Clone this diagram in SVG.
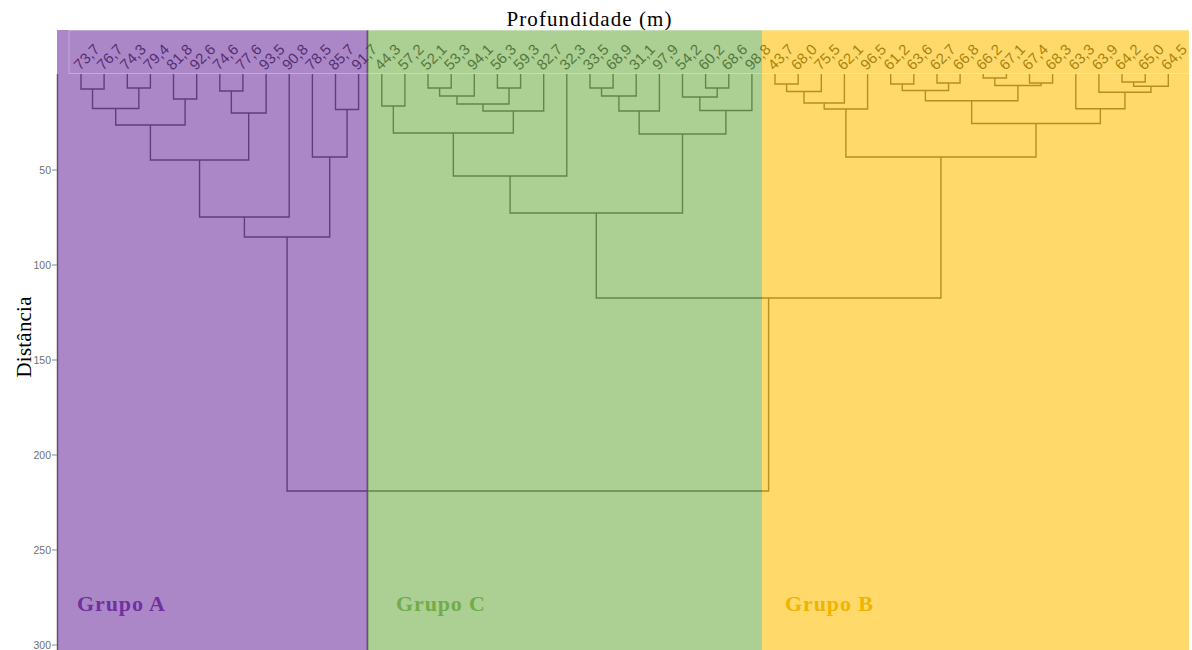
<svg xmlns="http://www.w3.org/2000/svg" width="1192" height="650" viewBox="0 0 1192 650">
<style>
.lbl{font-family:"Liberation Sans",Arial,sans-serif;font-size:15px;fill:#2e2e2e}
.tick{font-family:"Liberation Sans",Arial,sans-serif;font-size:10.5px;fill:#707070;text-anchor:end}
.ttl{font-family:"Liberation Serif","Times New Roman",serif;font-size:21px;fill:#000}
.grp{font-family:"Liberation Serif","Times New Roman",serif;font-size:22px;font-weight:bold}
.den path{fill:none;stroke:#505050;stroke-width:1.4}
.ov{fill-opacity:0.58}
</style>
<rect x="0" y="0" width="1192" height="650" fill="#fff"/>
<text class="ttl" x="589" y="26" text-anchor="middle" textLength="165">Profundidade (m)</text>
<text class="ttl" transform="translate(31,337) rotate(-90)" text-anchor="middle" textLength="81">Distância</text>
<g id="axis">
<line x1="57.5" y1="74" x2="57.5" y2="650" stroke="#666" stroke-width="1.5"/>
<g stroke="#888" stroke-width="1">
<line x1="52" y1="170" x2="57" y2="170"/><line x1="52" y1="265" x2="57" y2="265"/>
<line x1="52" y1="360" x2="57" y2="360"/><line x1="52" y1="455" x2="57" y2="455"/>
<line x1="52" y1="550" x2="57" y2="550"/><line x1="52" y1="645" x2="57" y2="645"/>
</g>
<text class="tick" x="51" y="173.5">50</text><text class="tick" x="51" y="268.5">100</text>
<text class="tick" x="51" y="363.5">150</text><text class="tick" x="51" y="458.5">200</text>
<text class="tick" x="51" y="553.5">250</text><text class="tick" x="51" y="648.5">300</text>
</g>
<line x1="367.5" y1="30" x2="367.5" y2="650" stroke="#707070" stroke-width="2"/>
<g id="connectors" class="den">
<path d="M81 74V89H104.1V74"/><path d="M127.3 74V88H150.4V74"/><path d="M92.55 89V108.5H138.85V88"/>
<path d="M173.5 74V99H196.7V74"/><path d="M115.7 108.5V125H185.1V99"/><path d="M219.8 74V91H242.9V74"/>
<path d="M231.35 91V113H266.1V74"/><path d="M150.4 125V160H248.7V113"/><path d="M199.55 160V217H289.2V74"/>
<path d="M335.5 74V109.5H358.6V74"/><path d="M312.4 74V157H347.05V109.5"/><path d="M244.4 217V237H329.7V157"/>
<path d="M381.8 74V106H404.9V74"/><path d="M428 74V88H451.2V74"/><path d="M439.6 88V96H474.3V74"/>
<path d="M497.4 74V88H520.6V74"/><path d="M456.95 96V104H509V88"/><path d="M482.98 104V111H543.7V74"/>
<path d="M393.35 106V133H513.34V111"/><path d="M453.35 133V176H566.8V74"/><path d="M590 74V88H613.1V74"/>
<path d="M601.55 88V96H636.2V74"/><path d="M618.9 96V111H659.4V74"/><path d="M705.6 74V88H728.8V74"/>
<path d="M682.5 74V97H717.2V88"/><path d="M699.85 97V110.5H751.9V74"/><path d="M639.15 111V134H725.9V110.5"/>
<path d="M510.07 176V213H682.5V134"/>
<path d="M775 74V84H798.2V74"/><path d="M786.6 84V91.5H821.3V74"/><path d="M803.95 91.5V103H844.4V74"/>
<path d="M824.18 103V109H867.6V74"/><path d="M890.7 74V84H913.8V74"/><path d="M937 74V83H960.1V74"/>
<path d="M902.25 84V90.5H948.55V83"/><path d="M983.2 74V78H1006.4V74"/><path d="M1029.5 74V83H1052.6V74"/>
<path d="M994.8 78V85.5H1041.05V83"/><path d="M925.4 90.5V100.7H1017.93V85.5"/><path d="M1122 74V82H1145.2V74"/>
<path d="M1133.6 82V86.3H1168.3V74"/><path d="M1098.9 74V92.3H1150.95V86.3"/><path d="M1075.8 74V108.7H1124.93V92.3"/>
<path d="M971.66 100.7V123.5H1100.36V108.7"/><path d="M845.89 109V157H1036.01V123.5"/>
<path d="M596.3 213V298H940.95V157"/><path d="M287.05 237V491H768.6V298"/>
</g>
<g id="leaves" class="lbl">
<text id="l1" transform="translate(80,71) rotate(-45)">73,7</text>
<text id="l2" transform="translate(103.1,71) rotate(-45)">76,7</text>
<text id="l3" transform="translate(126.3,71) rotate(-45)">74,3</text>
<text id="l4" transform="translate(149.4,71) rotate(-45)">79,4</text>
<text id="l5" transform="translate(172.5,71) rotate(-45)">81,8</text>
<text id="l6" transform="translate(195.7,71) rotate(-45)">92,6</text>
<text id="l7" transform="translate(218.8,71) rotate(-45)">74,6</text>
<text id="l8" transform="translate(241.9,71) rotate(-45)">77,6</text>
<text id="l9" transform="translate(265.1,71) rotate(-45)">93,5</text>
<text id="l10" transform="translate(288.2,71) rotate(-45)">90,8</text>
<text id="l11" transform="translate(311.4,71) rotate(-45)">78,5</text>
<text id="l12" transform="translate(334.5,71) rotate(-45)">85,7</text>
<text id="l13" transform="translate(357.6,71) rotate(-45)">91,7</text>
<text id="l14" transform="translate(380.8,71) rotate(-45)">44,3</text>
<text id="l15" transform="translate(403.9,71) rotate(-45)">57,2</text>
<text id="l16" transform="translate(427,71) rotate(-45)">52,1</text>
<text id="l17" transform="translate(450.2,71) rotate(-45)">53,3</text>
<text id="l18" transform="translate(473.3,71) rotate(-45)">94,1</text>
<text id="l19" transform="translate(496.4,71) rotate(-45)">56,3</text>
<text id="l20" transform="translate(519.6,71) rotate(-45)">59,3</text>
<text id="l21" transform="translate(542.7,71) rotate(-45)">82,7</text>
<text id="l22" transform="translate(565.8,71) rotate(-45)">32,3</text>
<text id="l23" transform="translate(589,71) rotate(-45)">33,5</text>
<text id="l24" transform="translate(612.1,71) rotate(-45)">68,9</text>
<text id="l25" transform="translate(635.2,71) rotate(-45)">31,1</text>
<text id="l26" transform="translate(658.4,71) rotate(-45)">97,9</text>
<text id="l27" transform="translate(681.5,71) rotate(-45)">54,2</text>
<text id="l28" transform="translate(704.6,71) rotate(-45)">60,2</text>
<text id="l29" transform="translate(727.8,71) rotate(-45)">68,6</text>
<text id="l30" transform="translate(750.9,71) rotate(-45)">98,8</text>
<text id="l31" transform="translate(774,71) rotate(-45)">43,7</text>
<text id="l32" transform="translate(797.2,71) rotate(-45)">68,0</text>
<text id="l33" transform="translate(820.3,71) rotate(-45)">75,5</text>
<text id="l34" transform="translate(843.4,71) rotate(-45)">62,1</text>
<text id="l35" transform="translate(866.6,71) rotate(-45)">96,5</text>
<text id="l36" transform="translate(889.7,71) rotate(-45)">61,2</text>
<text id="l37" transform="translate(912.8,71) rotate(-45)">63,6</text>
<text id="l38" transform="translate(936,71) rotate(-45)">62,7</text>
<text id="l39" transform="translate(959.1,71) rotate(-45)">66,8</text>
<text id="l40" transform="translate(982.2,71) rotate(-45)">66,2</text>
<text id="l41" transform="translate(1005.4,71) rotate(-45)">67,1</text>
<text id="l42" transform="translate(1028.5,71) rotate(-45)">67,4</text>
<text id="l43" transform="translate(1051.6,71) rotate(-45)">68,3</text>
<text id="l44" transform="translate(1074.8,71) rotate(-45)">63,3</text>
<text id="l45" transform="translate(1097.9,71) rotate(-45)">63,9</text>
<text id="l46" transform="translate(1121,71) rotate(-45)">64,2</text>
<text id="l47" transform="translate(1144.2,71) rotate(-45)">65,0</text>
<text id="l48" transform="translate(1167.3,71) rotate(-45)">64,5</text>
</g>
<g id="group-a"><rect class="ov" x="57" y="30" width="311" height="620" fill="#7030A0"/>
<text class="grp" x="77" y="611" fill="#7030A0" textLength="88">Grupo A</text></g>
<g id="group-c"><rect class="ov" x="368" y="30" width="394" height="620" fill="#70AD47"/>
<text class="grp" x="396" y="611" fill="#70AD47" textLength="89">Grupo C</text></g>
<g id="group-b"><rect class="ov" x="762" y="30" width="427" height="620" fill="#FFC000"/>
<text class="grp" x="785" y="611" fill="#F0B400" textLength="88">Grupo B</text></g>
<rect x="69" y="30.5" width="1120" height="43" fill="none" stroke="#fff" stroke-opacity="0.3" stroke-width="1"/>
</svg>
